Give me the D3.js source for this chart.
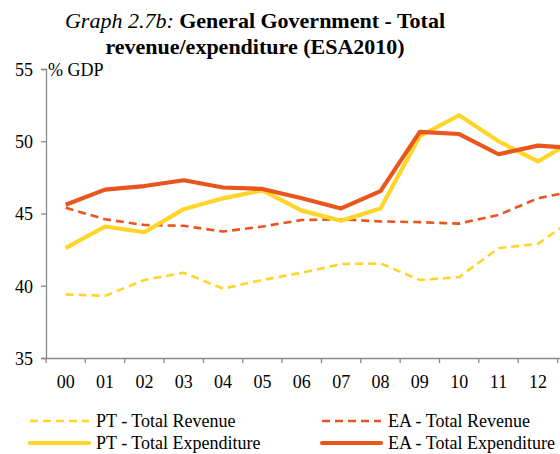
<!DOCTYPE html>
<html>
<head>
<meta charset="utf-8">
<script src="https://cdn.jsdelivr.net/npm/d3@7"></script>
<style>
  body { margin: 0; background: #fff; }
  svg { display: block; font-family: "Liberation Serif", "Times New Roman", serif; }
</style>
</head>
<body>
<div id="content"></div>
<script>
// years 2000-2013 (the 13 point sits past the right edge, like the original)
var years = ["00", "01", "02", "03", "04", "05", "06", "07", "08", "09", "10", "11", "12", "13"];
var yTicks = [35, 40, 45, 50, 55];

var ptRevenue = [39.4, 39.3, 40.4, 40.9, 39.8, 40.4, 40.9, 41.5, 41.55, 40.4, 40.6, 42.6, 42.9, 44.8];
var eaRevenue = [45.4, 44.6, 44.2, 44.15, 43.75, 44.1, 44.55, 44.6, 44.45, 44.4, 44.3, 44.9, 46.05, 46.6];
var ptExpenditure = [42.6, 44.1, 43.7, 45.3, 46.05, 46.6, 45.2, 44.5, 45.35, 50.35, 51.8, 50.0, 48.6, 50.2];
var eaExpenditure = [45.6, 46.65, 46.9, 47.3, 46.8, 46.7, 46.05, 45.35, 46.55, 50.65, 50.5, 49.1, 49.7, 49.5];

var series = [
    { name: "PT - Total Revenue", values: ptRevenue, color: "#FFD52A", width: 2.6, dash: "8,5" },
    { name: "EA - Total Revenue", values: eaRevenue, color: "#E9551C", width: 2.6, dash: "8,5" },
    { name: "PT - Total Expenditure", values: ptExpenditure, color: "#FFD52A", width: 4.2, dash: null },
    { name: "EA - Total Expenditure", values: eaExpenditure, color: "#E9551C", width: 4.2, dash: null }
];

var W = 560, H = 454;
var plotLeft = 46, plotTop = 69, plotBottom = 358;
var step = 39.35;
var fontSize = "18px";

var svg = d3.select("#content").append("svg")
    .attr("width", W)
    .attr("height", H);

// title
var title = svg.append("text")
    .attr("x", 255)
    .attr("y", 28)
    .attr("text-anchor", "middle")
    .style("font-size", "22px");
title.append("tspan").style("font-style", "italic").text("Graph 2.7b: ");
title.append("tspan").style("font-weight", "bold").text("General Government - Total");
svg.append("text")
    .attr("x", 255)
    .attr("y", 54)
    .attr("text-anchor", "middle")
    .style("font-size", "22px")
    .style("font-weight", "bold")
    .text("revenue/expenditure (ESA2010)");

var x = d3.scaleBand().domain(years).range([plotLeft, plotLeft + step * years.length]);
var y = d3.scaleLinear().domain([35, 55]).range([plotBottom, plotTop]);

var yAxis = svg.append("g")
    .attr("transform", "translate(" + plotLeft + ",0)")
    .call(d3.axisLeft(y).tickValues(yTicks).tickSize(5).tickPadding(8));

// the 13 label falls outside the visible area, so only 00-12 are labelled
var xAxis = svg.append("g")
    .attr("transform", "translate(0," + plotBottom + ")")
    .call(d3.axisBottom(x).tickValues(years.slice(0, 13)).tickSize(0).tickPadding(17));

// category boundary ticks
xAxis.selectAll(".bound")
    .data(d3.range(years.length + 1))
    .enter().append("line")
    .attr("class", "bound")
    .attr("x1", function(i) { return plotLeft + i * step; })
    .attr("x2", function(i) { return plotLeft + i * step; })
    .attr("y1", 0)
    .attr("y2", 5);

svg.selectAll(".domain, .tick line, .bound")
    .attr("stroke", "#898989")
    .attr("stroke-width", 1.3);
svg.selectAll(".tick text")
    .attr("fill", "#000")
    .style("font-size", fontSize)
    .style("font-family", "Liberation Serif, serif");
yAxis.selectAll(".tick text").attr("dy", "0.35em");

svg.append("text")
    .attr("x", plotLeft + 2)
    .attr("y", 76)
    .style("font-size", fontSize)
    .text("% GDP");

var line = d3.line()
    .x(function(d, i) { return x(years[i]) + x.bandwidth() / 2; })
    .y(function(d) { return y(d); });

// draw dashed first, solid on top, EA above PT
[series[1], series[0], series[2], series[3]].forEach(function(s) {
    svg.append("path")
        .datum(s.values)
        .attr("fill", "none")
        .attr("stroke", s.color)
        .attr("stroke-width", s.width)
        .attr("stroke-dasharray", s.dash)
        .attr("stroke-linejoin", "round")
        .attr("d", line);
});

// legend
var legendPos = [[30, 427], [322, 427], [30, 449], [322, 449]];
series.forEach(function(s, i) {
    var g = svg.append("g")
        .attr("transform", "translate(" + legendPos[i][0] + "," + legendPos[i][1] + ")");
    g.append("line")
        .attr("x1", 0).attr("x2", 59)
        .attr("y1", -6).attr("y2", -6)
        .attr("stroke", s.color)
        .attr("stroke-width", s.width)
        .attr("stroke-linecap", s.dash ? "butt" : "round")
        .attr("stroke-dasharray", s.dash);
    g.append("text")
        .attr("x", 66)
        .attr("y", 0)
        .style("font-size", fontSize)
        .text(s.name);
});
</script>
</body>
</html>
